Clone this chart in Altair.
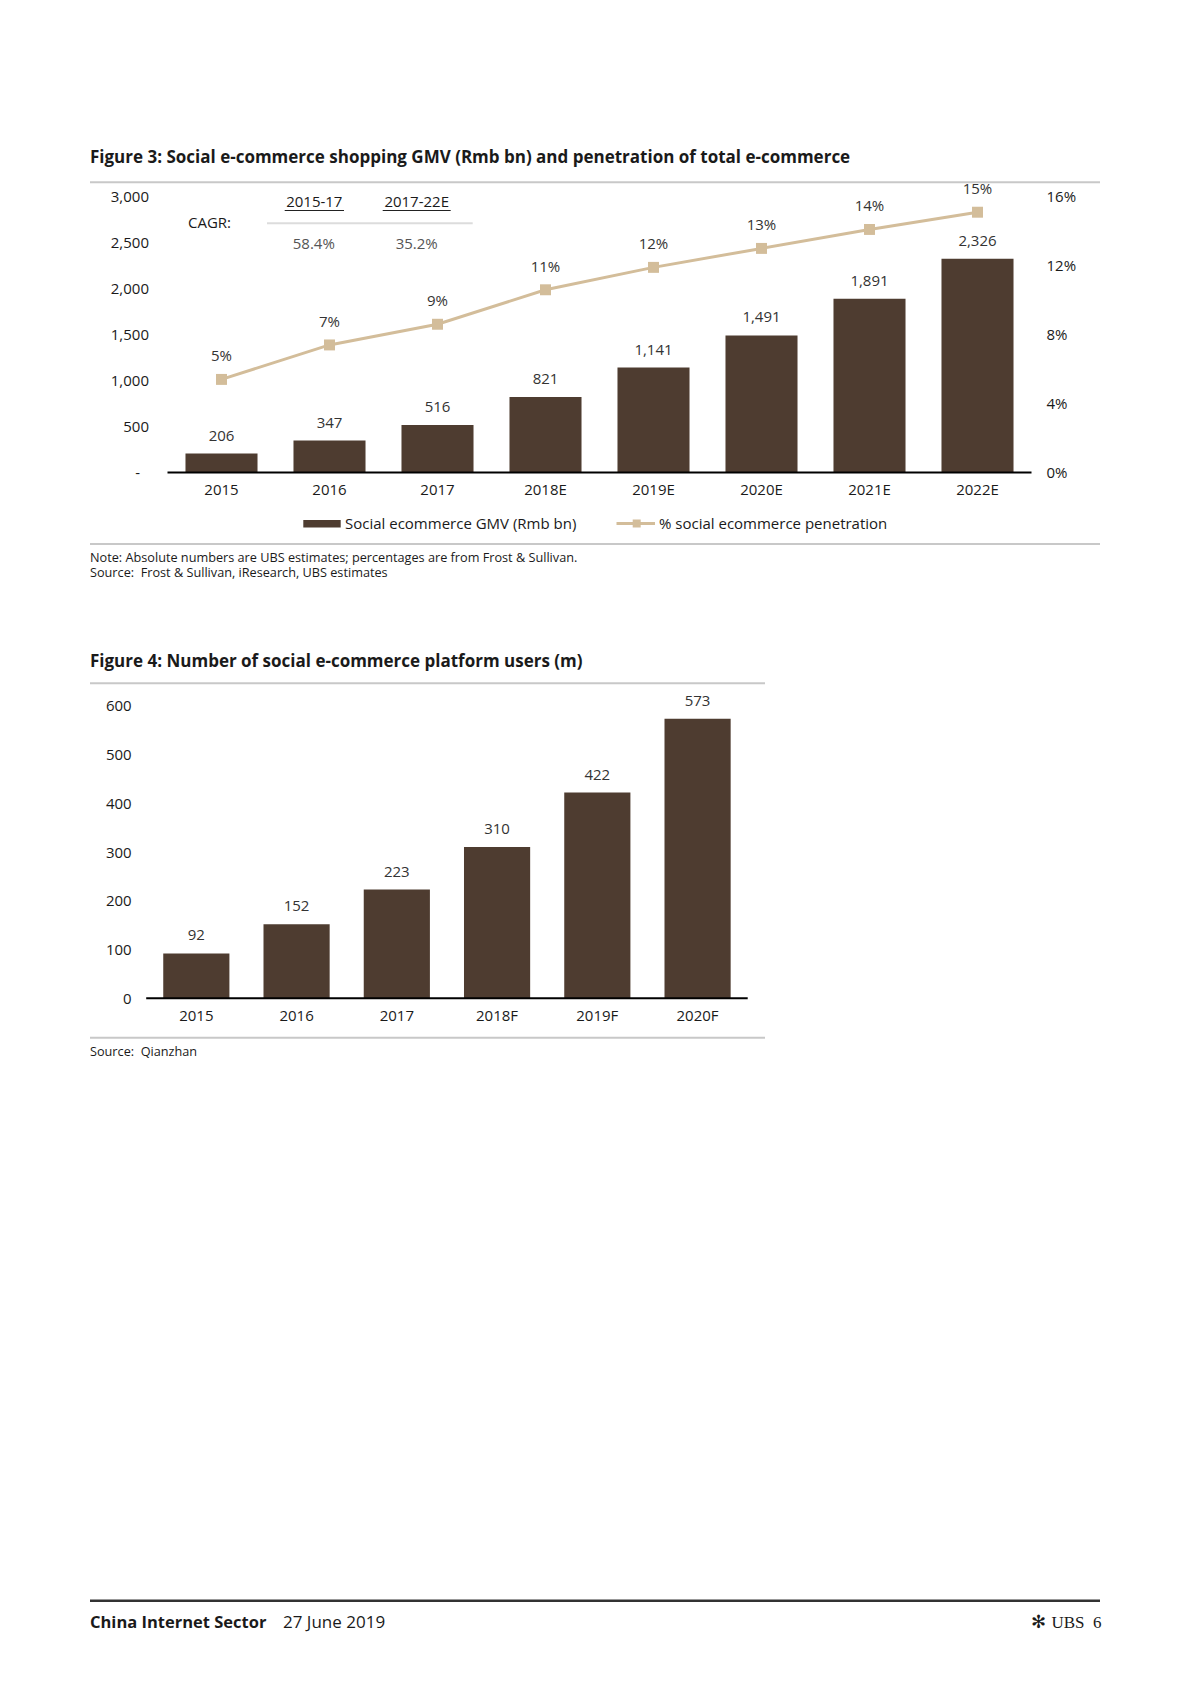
import altair as alt
import pandas as pd

# ---------------- data ----------------
years1 = ["2015", "2016", "2017", "2018E", "2019E", "2020E", "2021E", "2022E"]
gmv = [206, 347, 516, 821, 1141, 1491, 1891, 2326]
penetration = [0.054, 0.074, 0.086, 0.106, 0.119, 0.130, 0.141, 0.151]
gmv_ticks = [0, 500, 1000, 1500, 2000, 2500, 3000]
pct_ticks = [0, 0.04, 0.08, 0.12, 0.16]

years2 = ["2015", "2016", "2017", "2018F", "2019F", "2020F"]
users = [92, 152, 223, 310, 422, 573]
user_ticks = [0, 100, 200, 300, 400, 500, 600]

cagr_periods = ["2015-17", "2017-22E"]
cagr_values = ["58.4%", "35.2%"]

title3 = "Figure 3: Social e-commerce shopping GMV (Rmb bn) and penetration of total e-commerce"
title4 = "Figure 4: Number of social e-commerce platform users (m)"
legend_labels = ["Social ecommerce GMV (Rmb bn)", "% social ecommerce penetration"]
note3 = "Note: Absolute numbers are UBS estimates; percentages are from Frost & Sullivan."
source3 = "Source:\u00a0 Frost & Sullivan, iResearch, UBS estimates"
source4 = "Source:\u00a0 Qianzhan"
footer_bold = "China Internet Sector"
footer_date = "27 June 2019"

# ---------------- style ----------------
FONT = "Open Sans"
BROWN = "#4e3c30"
TAN = "#d3bd9a"
TXT = "#1a1a1a"
W, H = 1160, 1640

df1 = pd.DataFrame({"year": years1, "gmv": gmv, "pen": penetration})
df2 = pd.DataFrame({"year": years2, "users": users})
one = pd.DataFrame({"a": [0]})


def tx(text, x, y, size=15, weight="normal", color=TXT, align="left", font=FONT):
    return alt.Chart(pd.DataFrame({"t": [text]})).mark_text(
        align=align, baseline="middle", fontSize=size, fontWeight=weight,
        color=color, font=font
    ).encode(x=alt.value(x), y=alt.value(y), text="t:N")


def hrule(x1, x2, y, color, width):
    return alt.Chart(one).mark_rule(color=color, strokeWidth=width).encode(
        x=alt.value(x1), x2=alt.value(x2), y=alt.value(y))


# ---------------- chart 1 ----------------
X1_RANGE = [159.5, 1023.5]
Y1_RANGE = [464.5, 188.7]

x1 = alt.X("year:N", sort=years1, axis=None,
           scale=alt.Scale(type="band", range=X1_RANGE, paddingInner=0.333, paddingOuter=0.1665))

y_gmv = alt.Y("gmv:Q",
              scale=alt.Scale(domain=[0, 3000], range=Y1_RANGE, nice=False, zero=True),
              axis=alt.Axis(orient="left", offset=-X1_RANGE[0], values=gmv_ticks,
                            labelExpr="datum.value == 0 ? '-' : format(datum.value, ',')",
                            domain=False, ticks=False, grid=False, title=None,
                            labelPadding={"condition": {"test": "datum.value == 0", "value": 28}, "value": 19},
                            labelFontSize=15, labelColor=TXT, labelFont=FONT))

bars1 = alt.Chart().mark_bar(color=BROWN).encode(x=x1, y=y_gmv)
barlab1 = alt.Chart().mark_text(dy=-18, baseline="middle", fontSize=15, font=FONT, color="#333").encode(
    x=x1, y=y_gmv, text=alt.Text("gmv:Q", format=","))
xlab1 = alt.Chart().mark_text(baseline="middle", fontSize=15, font=FONT, color=TXT).encode(
    x=x1, y=alt.value(482.4), text="year:N")
chart1_bars = alt.layer(bars1, barlab1, xlab1, data=df1)

y_pen = alt.Y("pen:Q",
              scale=alt.Scale(domain=[0, 0.16], range=Y1_RANGE, nice=False, zero=True),
              axis=alt.Axis(orient="right", offset=X1_RANGE[1] - W, values=pct_ticks, format=".0%",
                            domain=False, ticks=False, grid=False, title=None,
                            labelPadding=14.5, labelFontSize=15, labelColor=TXT, labelFont=FONT))
line1 = alt.Chart().mark_line(color=TAN, strokeWidth=3).encode(x=x1, y=y_pen)
pts1 = alt.Chart().mark_point(shape="square", filled=True, size=120, color=TAN, opacity=1).encode(
    x=x1, y=y_pen)
penlab1 = alt.Chart().mark_text(dy=-23, baseline="middle", fontSize=15, font=FONT, color="#333").encode(
    x=x1, y=y_pen, text=alt.Text("pen:Q", format=".0%"))
chart1_line = alt.layer(line1, pts1, penlab1, data=df1)

# ---------------- chart 2 ----------------
X2_RANGE = [138.2, 739.7]
Y2_RANGE = [990.3, 697.7]

x2 = alt.X("year:N", sort=years2, axis=None,
           scale=alt.Scale(type="band", range=X2_RANGE, paddingInner=0.34, paddingOuter=0.17))

y_users = alt.Y("users:Q",
                scale=alt.Scale(domain=[0, 600], range=Y2_RANGE, nice=False, zero=True),
                axis=alt.Axis(orient="left", offset=-X2_RANGE[0], values=user_ticks,
                              domain=False, ticks=False, grid=False, title=None,
                              labelPadding=15, labelFontSize=15, labelColor=TXT, labelFont=FONT))
bars2 = alt.Chart().mark_bar(color=BROWN).encode(x=x2, y=y_users)
barlab2 = alt.Chart().mark_text(dy=-18, baseline="middle", fontSize=15, font=FONT, color="#333").encode(
    x=x2, y=y_users, text=alt.Text("users:Q"))
xlab2 = alt.Chart().mark_text(baseline="middle", fontSize=15, font=FONT, color=TXT).encode(
    x=x2, y=alt.value(1008), text="year:N")
chart2 = alt.layer(bars2, barlab2, xlab2, data=df2)

# ---------------- decorations ----------------
decor = [
    # x baselines
    hrule(X1_RANGE[0], X1_RANGE[1], Y1_RANGE[0], "#000", 2),
    hrule(X2_RANGE[0], X2_RANGE[1], Y2_RANGE[0], "#000", 2),
    tx(title3, 82, 150, size=17, weight="bold"),
    hrule(82, 1092, 174.3, "#c8c8c8", 2),
    # CAGR table
    tx("CAGR:", 180, 214.7, size=15),
    tx(cagr_periods[0], 306.3, 193.7, size=15, align="center"),
    tx(cagr_periods[1], 408.7, 193.7, size=15, align="center"),
    hrule(276.7, 336, 202.5, "#222", 1),
    hrule(374.7, 442.7, 202.5, "#222", 1),
    hrule(259, 464.7, 215.3, "#dcdcdc", 2),
    tx(cagr_values[0], 305.8, 236, size=15, align="center", color="#555"),
    tx(cagr_values[1], 408.7, 236, size=15, align="center", color="#555"),
    # legend
    alt.Chart(one).mark_rect(color=BROWN).encode(
        x=alt.value(295.3), x2=alt.value(332.7), y=alt.value(512), y2=alt.value(519.5)),
    tx(legend_labels[0], 337, 515.5, size=15),
    hrule(608.5, 647, 515.5, TAN, 3),
    alt.Chart(one).mark_point(shape="square", filled=True, size=64, color=TAN, opacity=1).encode(
        x=alt.value(628.7), y=alt.value(515.5)),
    tx(legend_labels[1], 651, 515.5, size=15),
    hrule(82, 1092, 536, "#c8c8c8", 2),
    tx(note3, 82, 550.3, size=12.7),
    tx(source3, 82, 565.3, size=12.7),
    # figure 4
    tx(title4, 82, 653.7, size=17, weight="bold"),
    hrule(82, 757, 675.3, "#c8c8c8", 2),
    hrule(82, 757, 1029.7, "#c8c8c8", 2),
    tx(source4, 82, 1044, size=12.7),
    # footer
    hrule(82, 1092, 1592.7, "#333", 2.5),
    tx(footer_bold, 82, 1615.3, size=16.5, weight="bold"),
    tx(footer_date, 275, 1615.3, size=17),
    tx("\u273b", 1030.5, 1615.3, size=18, align="center", font="DejaVu Sans"),
    tx("UBS", 1043.5, 1615.3, size=17, font="Liberation Serif"),
    tx("6", 1085, 1615.3, size=17, font="Liberation Serif"),
]

chart = alt.layer(chart1_bars, chart1_line, chart2, *decor).resolve_scale(
    x="independent", y="independent"
).properties(
    width=W, height=H, autosize=alt.AutoSizeParams(type="none"), padding=0,
    background="white"
).configure_view(stroke=None)

chart.save("out.html", embed_options={"renderer": "svg", "actions": False})
